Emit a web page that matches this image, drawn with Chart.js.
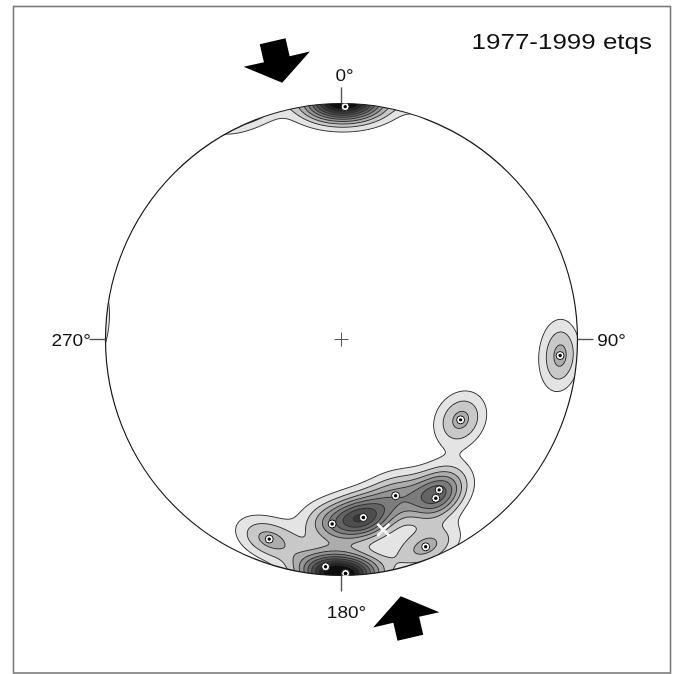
<!DOCTYPE html>
<html>
<head>
<meta charset="utf-8">
<style>
  html, body { margin: 0; padding: 0; background: #fff; }
  canvas { display: block; }
</style>
</head>
<body>
<canvas id="stereonet" width="677" height="674"></canvas>
<script src="https://cdn.jsdelivr.net/npm/chart.js@4.4.1/dist/chart.umd.min.js"></script>
<script>
// axes (lower hemisphere, degrees)
// two of them sit on top of another one (173/25 and 179/1), the contours give them away
const trends  = [124.0, 160.9, 147.0, 149.3, 173.0, 173.0, 182.9, 199.9, 157.9, 184.0, 179.0, 179.0, 94.2, 0.9];
const plunges = [ 39.0,  30.6,  25.0,  22.8,  25.0,  25.0,  22.8,  11.0,   5.8,   3.9,   1.0,   1.0,  7.9, 1.5];

// the white cross
const meanTrend  = [167.6];
const meanPlunge = [18.5];

// density contour levels and the grey of each band above them
const contourLevels = [0.3, 0.6, 0.9, 1.2, 1.5, 1.8, 2.1, 2.4, 2.7, 3.0];
const bandGrays = [255, 228, 200, 172, 148, 124, 100, 78, 56, 34, 14];
const kappa = 90;

const directionAzimuths = [0, 90, 180, 270];
const directionLabels = ['0°', '90°', '180°', '270°'];
const compressionTrend = 347;
const titleText = '1977-1999 etqs';

const rad = Math.PI / 180;

// equal area, lower hemisphere
function project(trend, plunge) {
  const t = trend * rad;
  const c = (90 - plunge) * rad;
  const r = Math.SQRT2 * Math.sin(c / 2);
  return { x: r * Math.sin(t), y: r * Math.cos(t) };
}

function toVector(trend, plunge) {
  const t = trend * rad, p = plunge * rad;
  return [Math.cos(p) * Math.sin(t), Math.cos(p) * Math.cos(t), Math.sin(p)];
}

const axisPoints = trends.map((t, i) => project(t, plunges[i]));
const meanPoints = meanTrend.map((t, i) => project(t, meanPlunge[i]));
const axisVectors = trends.map((t, i) => toVector(t, plunges[i]));

function density(x, y) {
  let rho2 = x * x + y * y;
  if (rho2 > 1) {
    const s = 1 / Math.sqrt(rho2);
    x *= s; y *= s; rho2 = 1;
  }
  const k = Math.sqrt(2 - rho2);
  const e = x * k, n = y * k, d = 1 - rho2;
  let f = 0;
  for (const v of axisVectors) {
    const dot = Math.abs(e * v[0] + n * v[1] + d * v[2]);
    f += Math.exp(kappa * (dot - 1));
  }
  return f;
}

function drawStretched(ctx, text, x, y, sx, align) {
  ctx.save();
  ctx.translate(x, y);
  ctx.scale(sx, 1);
  ctx.textAlign = align;
  ctx.fillText(text, 0, 0);
  ctx.restore();
}

const netPlugin = {
  id: 'net',
  beforeDatasetsDraw(chart) {
    const ctx = chart.ctx;
    const xs = chart.scales.x, ys = chart.scales.y;
    const area = chart.chartArea;
    const px = (x) => xs.getPixelForValue(x);
    const py = (y) => ys.getPixelForValue(y);
    const cx = px(0), cy = py(0);
    const R = px(1) - cx;

    ctx.save();
    ctx.fillStyle = '#fff';
    ctx.fillRect(0, 0, chart.width, chart.height);

    // frame
    ctx.strokeStyle = '#7a7a7a';
    ctx.lineWidth = 1.6;
    ctx.strokeRect(13.5, 6.5, 657, 666.5);

    // contoured density
    const x0 = Math.floor(area.left) - 2, x1 = Math.ceil(area.right) + 2;
    const y0 = Math.floor(area.top) - 2, y1 = Math.ceil(area.bottom) + 2;
    const W = x1 - x0, H = y1 - y0;
    const F = new Float32Array(W * H);
    const RHO = new Float32Array(W * H);
    for (let j = 0; j < H; j++) {
      const vy = ys.getValueForPixel(y0 + j + 0.5);
      for (let i = 0; i < W; i++) {
        const vx = xs.getValueForPixel(x0 + i + 0.5);
        RHO[j * W + i] = Math.sqrt(vx * vx + vy * vy);
        F[j * W + i] = density(vx, vy);
      }
    }
    const off = document.createElement('canvas');
    off.width = W; off.height = H;
    const octx = off.getContext('2d');
    const img = octx.createImageData(W, H);
    const lineGray = 45;
    for (let j = 1; j < H - 1; j++) {
      for (let i = 1; i < W - 1; i++) {
        const idx = j * W + i;
        const cover = Math.min(1, Math.max(0, (1 - RHO[idx]) * R + 0.5));
        if (cover <= 0) continue;
        const f = F[idx];
        let n = 0;
        while (n < contourLevels.length && f >= contourLevels[n]) n++;
        let g = bandGrays[n];
        const gx = (F[idx + 1] - F[idx - 1]) / 2;
        const gy = (F[idx + W] - F[idx - W]) / 2;
        const grad = Math.sqrt(gx * gx + gy * gy) + 1e-9;
        let dist = Infinity;
        if (n > 0) dist = Math.min(dist, (f - contourLevels[n - 1]) / grad);
        if (n < contourLevels.length) dist = Math.min(dist, (contourLevels[n] - f) / grad);
        const a = Math.max(0, Math.min(1, 1 - dist / 0.95)) * 0.95;
        g = g * (1 - a) + lineGray * a;
        const o = idx * 4;
        img.data[o] = g; img.data[o + 1] = g; img.data[o + 2] = g;
        img.data[o + 3] = Math.round(cover * 255);
      }
    }
    octx.putImageData(img, 0, 0);
    ctx.drawImage(off, x0, y0);

    // primitive circle
    ctx.strokeStyle = '#1a1a1a';
    ctx.lineWidth = 1.2;
    ctx.beginPath();
    ctx.arc(cx, cy, R, 0, Math.PI * 2);
    ctx.stroke();

    // centre cross
    ctx.strokeStyle = '#555';
    ctx.lineWidth = 1;
    ctx.beginPath();
    ctx.moveTo(cx - 7, cy); ctx.lineTo(cx + 7, cy);
    ctx.moveTo(cx, cy - 7); ctx.lineTo(cx, cy + 7);
    ctx.stroke();

    // ticks and labels
    ctx.strokeStyle = '#555';
    ctx.lineWidth = 1.4;
    ctx.fillStyle = '#111';
    ctx.font = '17px "Liberation Sans", Arial, sans-serif';
    directionAzimuths.forEach((az, i) => {
      const s = Math.sin(az * rad), c = Math.cos(az * rad);
      ctx.beginPath();
      ctx.moveTo(px(s), py(c));
      ctx.lineTo(px(s * 1.068), py(c * 1.068));
      ctx.stroke();
      const lx = px(s * 1.13), ly = py(c * 1.13);
      if (az === 0) drawStretched(ctx, directionLabels[i], lx + 3, ly + 8, 1.12, 'center');
      else if (az === 180) drawStretched(ctx, directionLabels[i], lx + 5, ly + 12, 1.12, 'center');
      else if (az === 90) drawStretched(ctx, directionLabels[i], lx - 11, ly + 6, 1.12, 'left');
      else drawStretched(ctx, directionLabels[i], lx + 16, ly + 6, 1.12, 'right');
    });

    // compression arrows
    ctx.fillStyle = '#000';
    [compressionTrend, compressionTrend - 180].forEach((az) => {
      const s = Math.sin(az * rad), c = Math.cos(az * rad);
      const at = (r, w) => [px(r * s + w * c), py(r * c - w * s)];
      const pts = [
        at(1.117, 0), at(1.219, 0.144), at(1.219, 0.056), at(1.297, 0.056),
        at(1.297, -0.056), at(1.219, -0.056), at(1.219, -0.144)
      ];
      ctx.beginPath();
      pts.forEach((p, k) => (k ? ctx.lineTo(p[0], p[1]) : ctx.moveTo(p[0], p[1])));
      ctx.closePath();
      ctx.fill();
    });

    // title
    ctx.fillStyle = '#111';
    ctx.font = '22px "Liberation Sans", Arial, sans-serif';
    drawStretched(ctx, titleText, 652, 49, 1.18, 'right');
    ctx.restore();
  }
};

// Chart.js paints the first dataset last, so the dots come first
new Chart(document.getElementById('stereonet'), {
  type: 'scatter',
  data: {
    datasets: [
      {
        data: axisPoints,
        pointRadius: 1.7,
        pointBackgroundColor: '#000',
        pointBorderWidth: 0
      },
      {
        data: axisPoints,
        pointRadius: 4,
        pointBackgroundColor: '#fff',
        pointBorderColor: '#111',
        pointBorderWidth: 1
      },
      {
        data: meanPoints,
        pointStyle: 'crossRot',
        pointRadius: 8.5,
        pointBorderColor: '#fff',
        pointBorderWidth: 2.6
      }
    ]
  },
  options: {
    responsive: false,
    animation: false,
    devicePixelRatio: 1,
    events: [],
    layout: { padding: { left: 105.5, right: 99.5, top: 103.5, bottom: 98.5 } },
    scales: {
      x: { type: 'linear', min: -1, max: 1, display: false },
      y: { type: 'linear', min: -1, max: 1, display: false }
    },
    plugins: { legend: { display: false }, tooltip: { enabled: false } }
  },
  plugins: [netPlugin]
});
</script>
</body>
</html>
